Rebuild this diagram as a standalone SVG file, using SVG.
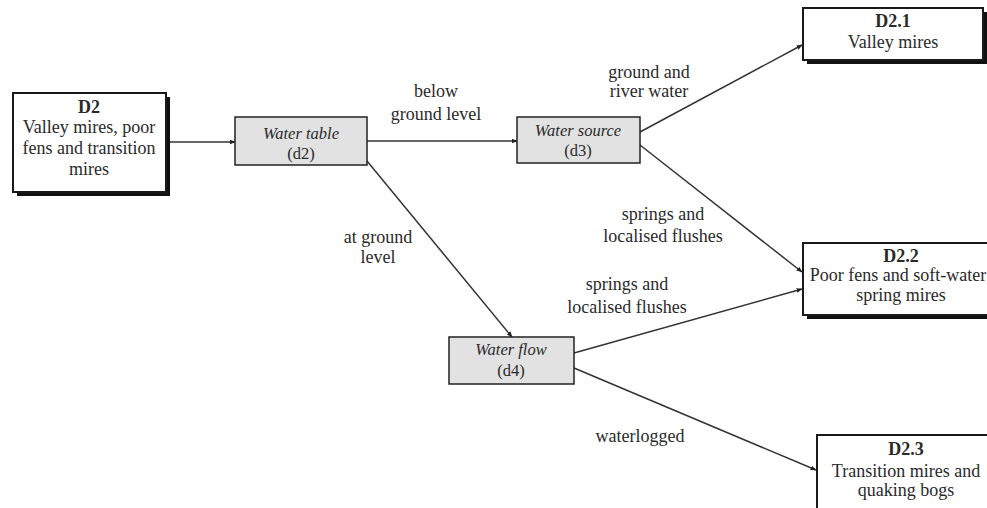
<svg xmlns="http://www.w3.org/2000/svg" width="987" height="508" viewBox="0 0 987 508">
<style>
text{font-family:"Liberation Serif","Times New Roman",serif;font-size:18px;fill:#2a2a2a;text-anchor:middle}
.b{font-weight:bold}
.i{font-style:italic}
.s{font-size:16.5px}
.main{fill:#fff;stroke:#1a1a1a;stroke-width:2}
.shadow{fill:#111}
.gray{fill:#e2e2e2;stroke:#222;stroke-width:1.5}
.edge{stroke:#333;stroke-width:1.5;fill:none;marker-end:url(#arr)}
</style>
<defs>
<marker id="arr" viewBox="0 0 10 10" refX="9" refY="5" markerWidth="6" markerHeight="6" orient="auto" markerUnits="userSpaceOnUse">
<path d="M0,1 L10,5 L0,9 z" fill="#222"/>
</marker>
</defs>
<rect width="987" height="508" fill="#fff"/>
<g id="connectors">
<line class="edge" x1="167" y1="142" x2="235" y2="142"/>
<line class="edge" x1="367" y1="141" x2="517" y2="141"/>
<line class="edge" x1="367" y1="161" x2="512" y2="337"/>
<line class="edge" x1="640" y1="132" x2="802" y2="45"/>
<line class="edge" x1="640" y1="145" x2="802" y2="272"/>
<line class="edge" x1="574" y1="353" x2="802" y2="289"/>
<line class="edge" x1="574" y1="368" x2="816" y2="470"/>
<text x="436" y="97">below</text>
<text x="436" y="120">ground level</text>
<text x="649" y="78">ground and</text>
<text x="649" y="97">river water</text>
<text x="378" y="243">at ground</text>
<text x="378" y="263">level</text>
<text x="663" y="220">springs and</text>
<text x="663" y="242">localised flushes</text>
<text x="627" y="290">springs and</text>
<text x="627" y="313">localised flushes</text>
<text x="640" y="442">waterlogged</text>
</g>
<g id="D2">
<rect class="shadow" x="17" y="97" width="153" height="99"/>
<rect class="main" x="13" y="93" width="153" height="99"/>
<text class="b" x="89" y="113">D2</text>
<text x="89" y="133">Valley mires, poor</text>
<text x="89" y="154">fens and transition</text>
<text x="89" y="175">mires</text>
</g>
<g id="d2">
<rect class="gray" x="235" y="117" width="132" height="48"/>
<text class="i s" x="301" y="139">Water table</text>
<text class="s" x="301" y="159">(d2)</text>
</g>
<g id="d3">
<rect class="gray" x="517" y="117" width="123" height="46"/>
<text class="i s" x="578" y="136">Water source</text>
<text class="s" x="578" y="156">(d3)</text>
</g>
<g id="d4">
<rect class="gray" x="449" y="337" width="125" height="47"/>
<text class="i s" x="511" y="355">Water flow</text>
<text class="s" x="511" y="376">(d4)</text>
</g>
<g id="D2.1">
<rect class="shadow" x="807" y="12" width="180" height="52"/>
<rect class="main" x="803" y="8" width="180" height="52"/>
<text class="b" x="893" y="27">D2.1</text>
<text x="893" y="48">Valley mires</text>
</g>
<g id="D2.2">
<rect class="shadow" x="807" y="247" width="190" height="72"/>
<rect class="main" x="803" y="243" width="190" height="72"/>
<text class="b" x="901" y="262">D2.2</text>
<text x="898" y="281">Poor fens and soft-water</text>
<text x="901" y="301">spring mires</text>
</g>
<g id="D2.3">
<rect class="shadow" x="821" y="439" width="180" height="90"/>
<rect class="main" x="817" y="435" width="180" height="90"/>
<text class="b" x="906" y="455">D2.3</text>
<text x="906" y="477">Transition mires and</text>
<text x="906" y="496">quaking bogs</text>
</g>
</svg>
